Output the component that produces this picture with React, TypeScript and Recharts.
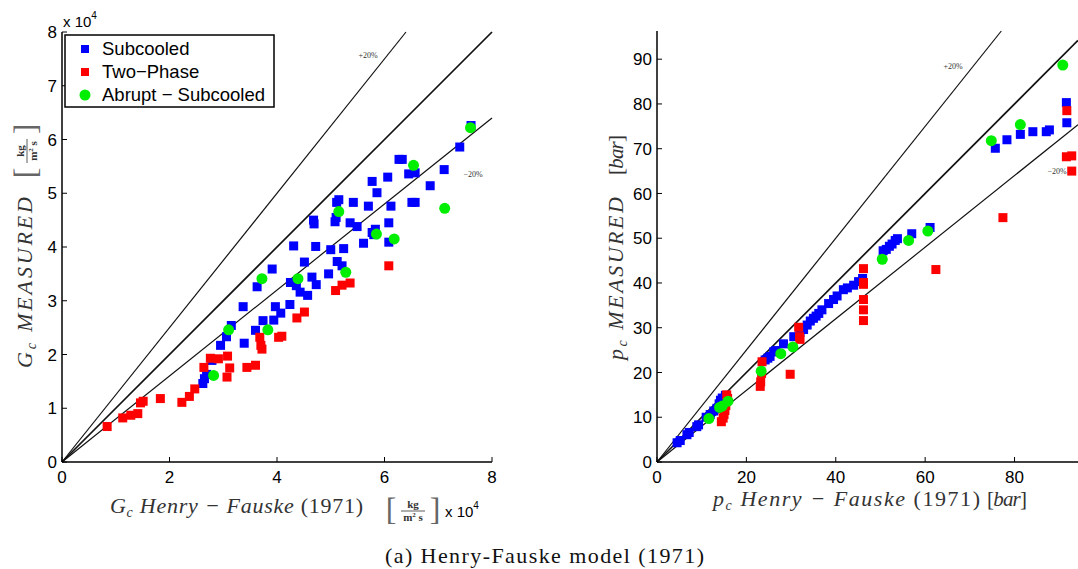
import React from 'react';
import { ScatterChart, Scatter, XAxis, YAxis, ReferenceLine } from 'recharts';

// left panel: critical mass flux, units of 1e4 kg/m2s  [predicted, measured]
const gSubcooled: [number, number][] = [
  [2.62, 1.46], [2.65, 1.55], [2.69, 1.63], [2.79, 1.89], [2.95, 2.17], [3.06, 2.33], [3.15, 2.54],
  [3.37, 2.89], [3.39, 2.21], [3.6, 2.45], [3.63, 3.26], [3.74, 2.63], [3.91, 3.59], [3.94, 2.64],
  [3.97, 2.89], [4.07, 2.77], [4.24, 2.93], [4.25, 3.34], [4.31, 4.02], [4.36, 3.28], [4.43, 3.16],
  [4.51, 3.72], [4.57, 3.1], [4.65, 3.44], [4.73, 3.3], [4.72, 4.01], [4.96, 3.5], [5.0, 3.95],
  [5.12, 3.73], [5.24, 3.97], [5.21, 3.65], [5.61, 4.07], [5.77, 4.27], [6.08, 4.09], [4.68, 4.5],
  [4.69, 4.43], [5.08, 4.47], [5.1, 4.55], [5.11, 4.83], [5.15, 4.88], [5.36, 4.45], [5.42, 4.83],
  [5.49, 4.38], [5.7, 4.76], [5.77, 5.22], [5.86, 5.01], [5.83, 4.33], [5.8, 4.23], [6.06, 5.3],
  [6.08, 4.45], [6.12, 4.76], [6.27, 5.63], [6.33, 5.63], [6.45, 5.36], [6.51, 4.83], [6.57, 4.83],
  [6.57, 5.38], [6.85, 5.14], [7.11, 5.44], [7.4, 5.86], [7.61, 6.26],
];
const gTwoPhase: [number, number][] = [
  [0.84, 0.66], [1.13, 0.82], [1.28, 0.87], [1.41, 0.9], [1.46, 1.1], [1.51, 1.13], [1.83, 1.18],
  [2.23, 1.11], [2.37, 1.22], [2.47, 1.36], [2.64, 1.76], [2.76, 1.93], [2.91, 1.92], [3.08, 1.97],
  [3.12, 1.75], [3.07, 1.58], [3.44, 1.76], [3.6, 1.8], [3.68, 2.32], [3.7, 2.17], [3.72, 2.1],
  [4.03, 2.32], [4.09, 2.34], [4.37, 2.68], [4.51, 2.79], [5.09, 3.19], [5.21, 3.29], [5.36, 3.33],
  [6.08, 3.65],
];
const gAbrupt: [number, number][] = [
  [2.82, 1.61], [3.1, 2.46], [3.72, 3.41], [3.83, 2.46], [4.39, 3.41], [5.28, 3.53], [5.85, 4.24],
  [6.18, 4.15], [5.15, 4.66], [6.54, 5.52], [7.12, 4.72], [7.6, 6.22],
];
const gTicksX = [0, 2, 4, 6, 8];
const gTicksY = [0, 1, 2, 3, 4, 5, 6, 7, 8];

// right panel: critical pressure, bar
const pSubcooled: [number, number][] = [
  [4.5, 4.3], [5.2, 4.8], [6.7, 6.1], [7.2, 6.6], [8.9, 7.9], [9.3, 8.3], [11.0, 10.0], [11.9, 10.6],
  [12.7, 11.4], [13.4, 12.0], [13.9, 13.0], [14.2, 13.8], [14.6, 14.3], [15.3, 14.9], [24.2, 22.8],
  [24.8, 23.2], [25.3, 23.6], [26.1, 24.6], [26.6, 24.9], [28.3, 26.4], [30.6, 28.0], [32.0, 29.0],
  [32.8, 29.6], [33.6, 30.6], [34.3, 31.5], [35.0, 32.1], [35.6, 32.6], [36.2, 33.2], [36.9, 34.0],
  [38.4, 35.4], [39.5, 36.3], [40.3, 37.1], [41.7, 38.5], [42.6, 38.9], [44.0, 39.5], [45.1, 40.3],
  [46.0, 41.0], [50.6, 47.2], [51.3, 47.5], [52.0, 48.2], [52.6, 48.7], [53.3, 49.5], [53.8, 49.9],
  [57.0, 51.0], [61.1, 52.4], [75.7, 70.1], [78.3, 72.0], [81.3, 73.2], [84.1, 73.8], [87.1, 73.8],
  [87.8, 74.2], [91.6, 80.3], [91.7, 75.8],
];
const pTwoPhase: [number, number][] = [
  [14.4, 9.0], [14.8, 9.8], [15.0, 10.6], [15.2, 11.5], [15.4, 12.6], [15.6, 15.0], [15.8, 14.2],
  [23.1, 16.9], [23.2, 17.9], [23.4, 19.8], [23.5, 22.4], [29.8, 19.6], [31.7, 30.1], [31.9, 28.0],
  [32.0, 27.4], [46.2, 43.2], [46.2, 40.1], [46.2, 39.7], [46.2, 36.3], [46.2, 34.0], [46.2, 31.6],
  [62.4, 43.0], [77.4, 54.6], [91.7, 78.5], [91.6, 68.2], [92.8, 68.4], [92.8, 65.0],
];
const pAbrupt: [number, number][] = [
  [11.6, 9.7], [14.0, 12.2], [14.6, 12.5], [15.9, 13.6], [23.3, 20.3], [27.7, 24.2], [30.4, 25.7],
  [50.4, 45.3], [56.3, 49.5], [60.6, 51.6], [74.8, 71.8], [81.3, 75.4], [90.8, 88.7],
];
const pTicksX = [0, 20, 40, 60, 80];
const pTicksY = [0, 10, 20, 30, 40, 50, 60, 70, 80, 90];

// measured/predicted ratio of the guide lines: +20%, 1:1, -20%
const guideRatios = [1.25, 1, 0.8];

const BLUE = '#0000ff';
const RED = '#ff0000';
const GREEN = '#00ee00';
const SANS = '"Liberation Sans", Arial, Helvetica, sans-serif';
const SERIF = '"Liberation Serif", "Times New Roman", serif';
const LABEL = '#333';

const toPts = (arr: [number, number][]) => arr.map(([x, y]) => ({ x, y }));

const square = (color: string) => (props: any) => (
  <rect x={props.cx - 4.5} y={props.cy - 4.5} width={9} height={9} fill={color} />
);
const dot = (color: string) => (props: any) => <circle cx={props.cx} cy={props.cy} r={5.5} fill={color} />;

const BottomTick = (props: any) => {
  const { x, y, payload } = props;
  return (
    <g>
      <line x1={x} x2={x} y1={y} y2={y - 5} stroke="#000" strokeWidth={1} />
      <text x={x} y={y + 21} textAnchor="middle" fontFamily={SANS} fontSize={17} fill="#000">
        {payload.value}
      </text>
    </g>
  );
};

const LeftTick = (props: any) => {
  const { x, y, payload } = props;
  return (
    <g>
      <line x1={x} x2={x + 5} y1={y} y2={y} stroke="#000" strokeWidth={1} />
      <text x={x - 5} y={y} dy="0.36em" textAnchor="end" fontFamily={SANS} fontSize={17} fill="#000">
        {payload.value}
      </text>
    </g>
  );
};

const guideSegment = (k: number, xMax: number, yMax: number) =>
  k * xMax <= yMax
    ? [{ x: 0, y: 0 }, { x: xMax, y: k * xMax }]
    : [{ x: 0, y: 0 }, { x: yMax / k, y: yMax }];

interface PanelProps {
  left: number;
  width: number;
  right: number;
  top: number;
  yAxisWidth: number;
  xMax: number;
  yMax: number;
  ticksX: number[];
  ticksY: number[];
  sub: [number, number][];
  two: [number, number][];
  abrupt: [number, number][];
}

const Panel: React.FC<PanelProps> = (p) => (
  <div style={{ position: 'absolute', left: p.left, top: 0 }}>
    <ScatterChart width={p.width} height={500} margin={{ top: p.top, right: p.right, bottom: 0, left: 0 }}>
      <XAxis
        type="number"
        dataKey="x"
        domain={[0, p.xMax]}
        ticks={p.ticksX}
        allowDataOverflow
        height={38}
        tickSize={0}
        tickMargin={0}
        tickLine={false}
        axisLine={{ stroke: '#000', strokeWidth: 1.5 }}
        tick={<BottomTick />}
        interval={0}
      />
      <YAxis
        type="number"
        dataKey="y"
        domain={[0, p.yMax]}
        ticks={p.ticksY}
        allowDataOverflow
        width={p.yAxisWidth}
        tickSize={0}
        tickMargin={0}
        tickLine={false}
        axisLine={{ stroke: '#000', strokeWidth: 1.5 }}
        tick={<LeftTick />}
        interval={0}
      />
      {guideRatios.map((k) => (
        <ReferenceLine
          key={k}
          segment={guideSegment(k, p.xMax, p.yMax)}
          stroke="#111"
          strokeWidth={k === 1 ? 1.7 : 1.2}
          ifOverflow="visible"
        />
      ))}
      <Scatter name="Subcooled" data={toPts(p.sub)} fill={BLUE} shape={square(BLUE)} isAnimationActive={false} />
      <Scatter name="Two-Phase" data={toPts(p.two)} fill={RED} shape={square(RED)} isAnimationActive={false} />
      <Scatter name="Abrupt - Subcooled" data={toPts(p.abrupt)} fill={GREEN} shape={dot(GREEN)} isAnimationActive={false} />
    </ScatterChart>
  </div>
);

// [kg / m^2 s] stacked fraction in square brackets, centred on (0,0)
const Frac = ({ transform }: { transform: string }) => (
  <g transform={transform} fill={LABEL} fontFamily={SERIF}>
    <text x={-22} y={9} fontSize={32} textAnchor="middle" fill="#666">[</text>
    <text x={22} y={9} fontSize={32} textAnchor="middle" fill="#666">]</text>
    <text x={0} y={-3} fontSize={11} fontWeight="bold" textAnchor="middle">kg</text>
    <line x1={-12} x2={12} y1={0} y2={0} stroke={LABEL} strokeWidth={0.8} />
    <text x={0} y={10} fontSize={11} fontWeight="bold" textAnchor="middle">
      m<tspan dy={-4} fontSize={7}>2</tspan><tspan dy={4}> s</tspan>
    </text>
  </g>
);

const legendItems = [
  { label: 'Subcooled', color: BLUE, round: false },
  { label: 'Two\u2212Phase', color: RED, round: false },
  { label: 'Abrupt \u2212 Subcooled', color: GREEN, round: true },
];

export default function App() {
  return (
    <div style={{ position: 'absolute', left: 0, top: 0, width: 1078, height: 569, background: '#fff', overflow: 'hidden' }}>
      <Panel left={0} width={500} right={8} top={32} yAxisWidth={62} xMax={8} yMax={8} ticksX={gTicksX} ticksY={gTicksY}
        sub={gSubcooled} two={gTwoPhase} abrupt={gAbrupt} />
      <Panel left={590} width={488} right={0} top={31} yAxisWidth={67} xMax={94.2} yMax={96.3} ticksX={pTicksX} ticksY={pTicksY}
        sub={pSubcooled} two={pTwoPhase} abrupt={pAbrupt} />

      <svg width={1078} height={569} style={{ position: 'absolute', left: 0, top: 0, pointerEvents: 'none' }}>
        {/* legend */}
        <rect x={65} y={35} width={209} height={72} fill="#fff" stroke="#000" strokeWidth={1.5} />
        {legendItems.map((it, i) => {
          const cy = 49 + i * 23;
          return (
            <g key={it.label}>
              {it.round ? (
                <circle cx={85} cy={cy} r={5.5} fill={it.color} />
              ) : (
                <rect x={81} y={cy - 4} width={8} height={8} fill={it.color} />
              )}
              <text x={102} y={cy} dy="0.35em" fontFamily={SANS} fontSize={18.5} fill="#000">{it.label}</text>
            </g>
          );
        })}

        {/* exponent of the left panel */}
        <text x={63} y={27} fontFamily={SANS} fontSize={15} fill="#000">
          x 10<tspan dy={-8} fontSize={10}>4</tspan>
        </text>

        {/* guide line labels */}
        <text x={368} y={58} fontFamily={SERIF} fontSize={8} textAnchor="middle" fill="#333">+20%</text>
        <text x={473} y={177} fontFamily={SERIF} fontSize={8} textAnchor="middle" fill="#333">{'\u221220%'}</text>
        <text x={953} y={69} fontFamily={SERIF} fontSize={8} textAnchor="middle" fill="#333">+20%</text>
        <text x={1057} y={174} fontFamily={SERIF} fontSize={8} textAnchor="middle" fill="#333">{'\u221220%'}</text>

        {/* left y label */}
        <g transform="translate(32,368) rotate(-90)">
          <text x={0} y={0} fontFamily={SERIF} fontSize={22} fill={LABEL} fontStyle="italic" textLength={171} lengthAdjust="spacing">
            G<tspan dy={4} fontSize={14}>c</tspan><tspan dy={-4}> MEASURED</tspan>
          </text>
        </g>
        <Frac transform="translate(27,151) rotate(-90)" />

        {/* left x label */}
        <text x={110} y={513} fontFamily={SERIF} fontSize={22} fill={LABEL} textLength={253} lengthAdjust="spacing">
          <tspan fontStyle="italic">G</tspan><tspan dy={4} fontSize={14} fontStyle="italic">c</tspan>
          <tspan dy={-4} fontStyle="italic"> Henry {'\u2212'} Fauske </tspan><tspan>(1971)</tspan>
        </text>
        <Frac transform="translate(413,511)" />
        <text x={445} y={517} fontFamily={SANS} fontSize={15} fill="#000">
          x 10<tspan dy={-8} fontSize={10}>4</tspan>
        </text>

        {/* right y label */}
        <g transform="translate(623,360) rotate(-90)">
          <text x={0} y={0} fontFamily={SERIF} fontSize={22} fill={LABEL} fontStyle="italic" textLength={163} lengthAdjust="spacing">
            p<tspan dy={4} fontSize={14}>c</tspan><tspan dy={-4}> MEASURED</tspan>
          </text>
          <text x={185} y={0} fontFamily={SERIF} fontSize={21} fill={LABEL} textLength={40} lengthAdjust="spacing">
            [<tspan fontStyle="italic">bar</tspan>]
          </text>
        </g>

        {/* right x label */}
        <text x={713} y={506} fontFamily={SERIF} fontSize={22} fill={LABEL} textLength={267} lengthAdjust="spacing">
          <tspan fontStyle="italic">p</tspan><tspan dy={4} fontSize={14} fontStyle="italic">c</tspan>
          <tspan dy={-4} fontStyle="italic"> Henry {'\u2212'} Fauske </tspan><tspan>(1971)</tspan>
        </text>
        <text x={987} y={506} fontFamily={SERIF} fontSize={21} fill={LABEL} textLength={40} lengthAdjust="spacing">
          [<tspan fontStyle="italic">bar</tspan>]
        </text>

        {/* caption */}
        <text x={385} y={563} fontFamily={SERIF} fontSize={22} fill="#111" textLength={319} lengthAdjust="spacing">
          (a) Henry-Fauske model (1971)
        </text>
      </svg>
    </div>
  );
}
